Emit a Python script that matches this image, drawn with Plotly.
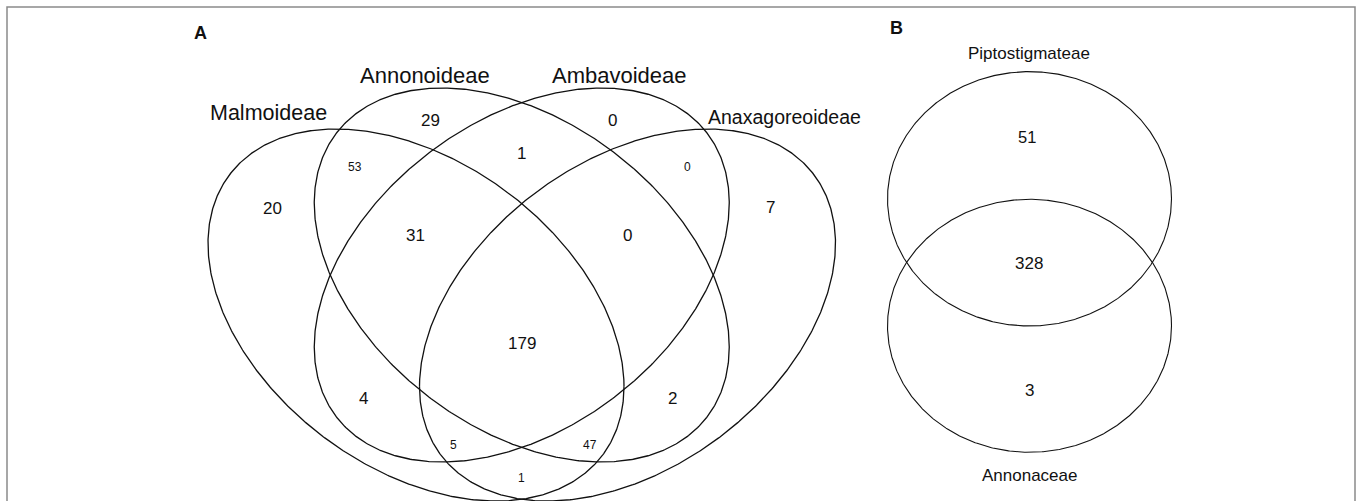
import numpy as np
import plotly.graph_objects as go

# ---------------- data ----------------
# Panel A: four-set Venn (subfamilies)
sets_A = ["Malmoideae", "Annonoideae", "Ambavoideae", "Anaxagoreoideae"]
# region membership codes (M, An, Am, Ax) and counts
regions_A = ["1000", "0100", "0010", "0001",
             "1100", "0110", "0011",
             "1110", "0111",
             "1111",
             "1010", "0101",
             "1011", "1101",
             "1001"]
counts_A = [20, 29, 0, 7,
            53, 1, 0,
            31, 0,
            179,
            4, 2,
            5, 47,
            1]

# Panel B: two-set Venn
sets_B = ["Piptostigmateae", "Annonaceae"]
regions_B = ["10", "11", "01"]
counts_B = [51, 328, 3]

panel_letters = ["A", "B"]

# ---------------- layout geometry (page pixels) ----------------
W_PX, H_PX = 1358, 501
FONT = "Liberation Sans, Arial, Helvetica, sans-serif"

AXIS = 521.75
PHI = np.arccos(0.385)
# (center x, center y, half-width, half-height, mirrored)
ellipses_A = [
    (416.0, 315.0, 208.0, 186.0, False),
    (AXIS, 275.0, 207.5, 187.0, False),
    (AXIS, 275.0, 207.5, 187.0, True),
    (2 * AXIS - 416.0, 315.0, 208.0, 186.0, True),
]
set_label_pos_A = [(268, 113, 21.5), (425, 75, 22), (619, 75, 22), (784, 117, 19.5)]
region_pos_A = {
    "1000": (272, 208, 17), "0100": (430, 120, 17), "0010": (612, 120, 17), "0001": (770, 207, 17),
    "1100": (355, 167, 12), "0110": (521.5, 153, 17), "0011": (687, 167, 12),
    "1110": (415, 235, 17), "0111": (627, 235, 17),
    "1111": (521.5, 343, 17),
    "1010": (363, 398, 17), "0101": (672, 398, 17),
    "1011": (453, 445, 12), "1101": (590, 445, 12),
    "1001": (521.5, 478, 12),
}

circles_B = [(1029.5, 198.8, 142.0, 127.2), (1029.5, 325.8, 142.0, 126.5)]
set_label_pos_B = [(1029, 53, 17), (1029, 475, 17)]
region_pos_B = {"10": (1027, 137, 16.5), "11": (1029, 263, 17), "01": (1029, 390, 17)}

letter_pos = [(200, 33), (896, 28)]

fig = go.Figure()

t = np.linspace(0, 2 * np.pi, 721)
for (cx, cy, w, h, mir), name in zip(ellipses_A, sets_A):
    xs = cx + (-1 if mir else 1) * w * np.cos(t)
    ys = cy + h * np.cos(t - PHI)
    fig.add_trace(go.Scatter(x=xs, y=ys, mode="lines", name=name,
                             line=dict(color="#111111", width=1.3),
                             hoverinfo="skip", showlegend=False))

for (cx, cy, rx, ry), name in zip(circles_B, sets_B):
    fig.add_trace(go.Scatter(x=cx + rx * np.cos(t), y=cy + ry * np.sin(t), mode="lines",
                             name=name, line=dict(color="#111111", width=1.1),
                             hoverinfo="skip", showlegend=False))

def label(x, y, text, size, bold=False):
    fig.add_annotation(x=x, y=y, text=f"<b>{text}</b>" if bold else str(text),
                       showarrow=False, xanchor="center", yanchor="middle",
                       font=dict(family=FONT, size=size, color="#111111"))

for name, (x, y, s) in zip(sets_A, set_label_pos_A):
    label(x, y, name, s)
for code, c in zip(regions_A, counts_A):
    x, y, s = region_pos_A[code]
    label(x, y, c, s)
for name, (x, y, s) in zip(sets_B, set_label_pos_B):
    label(x, y, name, s)
for code, c in zip(regions_B, counts_B):
    x, y, s = region_pos_B[code]
    label(x, y, c, s)
for letter, (x, y) in zip(panel_letters, letter_pos):
    label(x, y, letter, 18, bold=True)

# outer frame
fig.add_shape(type="rect", x0=7, y0=7, x1=1355, y1=530, xref="x", yref="y",
              line=dict(color="#8a8a8a", width=1.5), fillcolor="rgba(0,0,0,0)")

fig.update_layout(
    width=W_PX, height=H_PX, margin=dict(l=0, r=0, t=0, b=0),
    paper_bgcolor="white", plot_bgcolor="white", showlegend=False,
    xaxis=dict(range=[0, W_PX], visible=False, fixedrange=True),
    yaxis=dict(range=[H_PX, 0], visible=False, fixedrange=True),
)

fig.write_html("out.html", config={"displayModeBar": False, "staticPlot": True},
               post_script="document.body.style.margin='0';document.body.style.overflow='hidden';")
